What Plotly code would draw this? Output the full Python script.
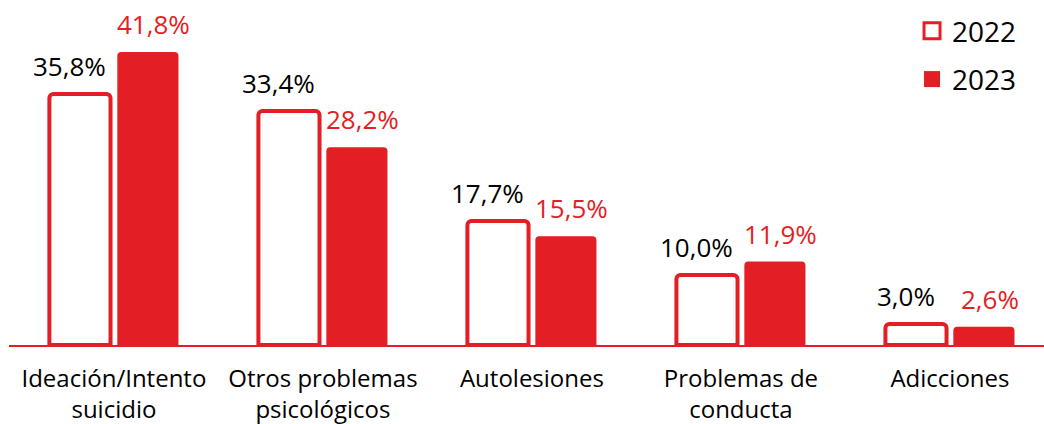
import plotly.graph_objects as go

categories = ["Ideación/Intento<br>suicidio", "Otros problemas<br>psicológicos",
              "Autolesiones", "Problemas de<br>conducta", "Adicciones"]
values_2022 = [35.8, 33.4, 17.7, 10.0, 3.0]
values_2023 = [41.8, 28.2, 15.5, 11.9, 2.6]

RED = "#E31E24"
FONT = "Open Sans"


def fmt(v):
    return f"{v:.1f}%".replace(".", ",")


fig = go.Figure()

fig.add_trace(go.Bar(
    x=categories, y=values_2022, name="2022", showlegend=False,
    marker=dict(color="white", line=dict(color=RED, width=4)),
    hoverinfo="y",
))
fig.add_trace(go.Bar(
    x=categories, y=values_2023, name="2023", showlegend=False,
    marker=dict(color=RED, line=dict(color=RED, width=0)),
    hoverinfo="y",
))

# value labels, nudged sideways like in the original
for cat, v in zip(categories, values_2022):
    fig.add_annotation(x=cat, y=v, text=fmt(v), showarrow=False,
                       xshift=-44, yshift=8, yanchor="bottom",
                       font=dict(color="black", size=26, family=FONT))
for cat, v in zip(categories, values_2023):
    fig.add_annotation(x=cat, y=v, text=fmt(v), showarrow=False,
                       xshift=40, yshift=8, yanchor="bottom",
                       font=dict(color=RED, size=26, family=FONT))

# legend entries with bigger square symbols
fig.add_trace(go.Scatter(
    x=[None], y=[None], mode="markers", name="2022", legendgroup="a",
    marker=dict(symbol="square", size=20, color="white", line=dict(color=RED, width=3)),
))
fig.add_trace(go.Scatter(
    x=[None], y=[None], mode="markers", name="2023", legendgroup="b",
    marker=dict(symbol="square", size=20, color=RED, line=dict(color=RED, width=0)),
))

fig.update_layout(
    width=1044, height=424,
    margin=dict(l=9, r=0, t=10, b=79, autoexpand=False),
    plot_bgcolor="white", paper_bgcolor="white",
    barmode="group", bargap=0.35, bargroupgap=0.1, barcornerradius=4,
    font=dict(family=FONT, size=24, color="black"),
    showlegend=True,
    legend=dict(x=0.8725, y=1.012, xanchor="left", yanchor="top",
                font=dict(size=28, family=FONT), tracegroupgap=9,
                itemsizing="trace", bgcolor="rgba(0,0,0,0)"),
    xaxis=dict(showline=True, linecolor=RED, linewidth=2, ticks="",
               range=[-0.502, 4.45],
               tickfont=dict(size=24, family=FONT, color="black"),
               ticklabelstandoff=11,
               showgrid=False, automargin=False),
    yaxis=dict(range=[0, 47.8], visible=False, showgrid=False, automargin=False),
)

# drop the browser's default body margin so the figure fills the window
fig.write_html("out.html", config={"displayModeBar": False},
               post_script="document.body.style.margin = '0';")
